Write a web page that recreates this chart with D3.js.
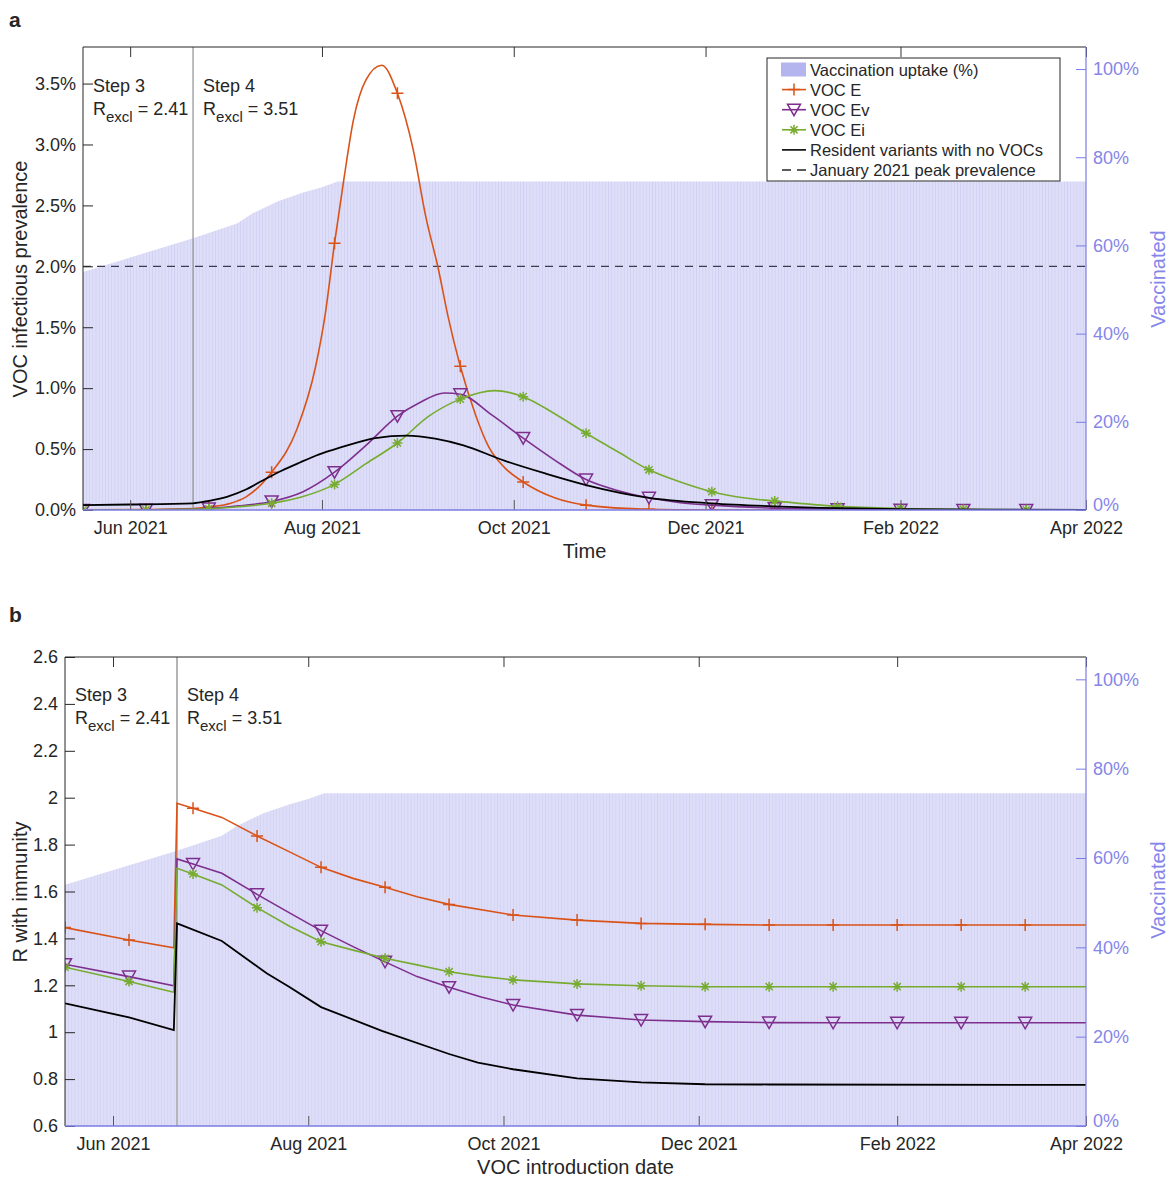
<!DOCTYPE html>
<html>
<head>
<meta charset="utf-8">
<script src="https://cdn.jsdelivr.net/npm/d3@7"></script>
<style>
  body { margin: 0; background: #fff; }
  svg text { font-family: "Liberation Sans", Arial, sans-serif; fill: #262626; }
</style>
</head>
<body>
<svg id="chart" width="1171" height="1181"></svg>
<script>
// ---------- data ----------
var startDate = "2021-05-17", endDate = "2022-04-01", stepDate = "2021-06-21";
var tickDates = ["2021-06-01", "2021-08-01", "2021-10-01", "2021-12-01", "2022-02-01", "2022-04-01"];
var markerDates = ["2021-05-17", "2021-06-06", "2021-06-26", "2021-07-16", "2021-08-05", "2021-08-25",
  "2021-09-14", "2021-10-04", "2021-10-24", "2021-11-13", "2021-12-03", "2021-12-23",
  "2022-01-12", "2022-02-01", "2022-02-21", "2022-03-13"];

// vaccination uptake (% of population)
var vaccUptake = [["2021-05-17", 54.0], ["2021-06-21", 61.6], ["2021-07-05", 65.0], ["2021-07-10", 67.3],
  ["2021-07-18", 70.0], ["2021-07-26", 72.0], ["2021-08-01", 73.2], ["2021-08-06", 74.5], ["2022-04-01", 74.5]];

// panel a: VOC infectious prevalence (%)
var prevE = [["2021-05-17", 0.001], ["2021-06-06", 0.004], ["2021-06-21", 0.012], ["2021-06-26", 0.025],
  ["2021-07-03", 0.055], ["2021-07-08", 0.11], ["2021-07-16", 0.31], ["2021-07-24", 0.66], ["2021-07-30", 1.18],
  ["2021-08-02", 1.6], ["2021-08-05", 2.19], ["2021-08-08", 2.72], ["2021-08-11", 3.2], ["2021-08-15", 3.53],
  ["2021-08-20", 3.65], ["2021-08-25", 3.42], ["2021-08-30", 2.96], ["2021-09-03", 2.41], ["2021-09-07", 1.98],
  ["2021-09-10", 1.6], ["2021-09-14", 1.18], ["2021-09-19", 0.77], ["2021-09-23", 0.52], ["2021-09-28", 0.35],
  ["2021-10-04", 0.23], ["2021-10-14", 0.1], ["2021-10-24", 0.04], ["2021-11-13", 0.006], ["2021-12-03", 0.001],
  ["2021-12-23", 0], ["2022-01-12", 0], ["2022-02-01", 0], ["2022-02-21", 0], ["2022-03-13", 0], ["2022-04-01", 0]];
var prevEv = [["2021-05-17", 0], ["2021-06-06", 0.002], ["2021-06-26", 0.012], ["2021-07-06", 0.035],
  ["2021-07-16", 0.07], ["2021-07-26", 0.15], ["2021-08-05", 0.31], ["2021-08-15", 0.53], ["2021-08-25", 0.77],
  ["2021-09-01", 0.88], ["2021-09-09", 0.96], ["2021-09-14", 0.95], ["2021-09-24", 0.78], ["2021-10-04", 0.59],
  ["2021-10-14", 0.41], ["2021-10-24", 0.25], ["2021-11-03", 0.16], ["2021-11-13", 0.1], ["2021-11-23", 0.06],
  ["2021-12-03", 0.04], ["2021-12-23", 0.015], ["2022-01-12", 0.006], ["2022-02-01", 0.002], ["2022-02-21", 0.001],
  ["2022-03-13", 0], ["2022-04-01", 0]];
var prevEi = [["2021-05-17", 0], ["2021-06-06", 0.002], ["2021-06-26", 0.01], ["2021-07-06", 0.028],
  ["2021-07-16", 0.055], ["2021-07-26", 0.11], ["2021-08-05", 0.21], ["2021-08-15", 0.38], ["2021-08-25", 0.55],
  ["2021-09-04", 0.77], ["2021-09-14", 0.91], ["2021-09-25", 0.98], ["2021-10-04", 0.93], ["2021-10-14", 0.79],
  ["2021-10-24", 0.63], ["2021-11-03", 0.48], ["2021-11-13", 0.33], ["2021-11-23", 0.23], ["2021-12-03", 0.15],
  ["2021-12-13", 0.1], ["2021-12-23", 0.074], ["2022-01-12", 0.03], ["2022-02-01", 0.012], ["2022-02-21", 0.005],
  ["2022-03-13", 0.002], ["2022-04-01", 0.001]];
var prevResident = [["2021-05-17", 0.04], ["2021-06-01", 0.045], ["2021-06-21", 0.055], ["2021-06-26", 0.075],
  ["2021-07-02", 0.11], ["2021-07-08", 0.17], ["2021-07-13", 0.24], ["2021-07-19", 0.32], ["2021-07-25", 0.39],
  ["2021-07-30", 0.445], ["2021-08-04", 0.49], ["2021-08-11", 0.545], ["2021-08-18", 0.59], ["2021-08-28", 0.61],
  ["2021-09-06", 0.585], ["2021-09-15", 0.53], ["2021-09-28", 0.405], ["2021-10-11", 0.3], ["2021-10-24", 0.205],
  ["2021-11-13", 0.1], ["2021-12-03", 0.055], ["2021-12-23", 0.03], ["2022-01-12", 0.015], ["2022-02-01", 0.008],
  ["2022-03-01", 0.003], ["2022-04-01", 0.001]];
var janPeakPrevalence = 2.0;

// panel b: R with immunity
var rE = [["2021-05-17", 1.446], ["2021-06-06", 1.393], ["2021-06-20", 1.36], ["2021-06-21", 1.976],
  ["2021-06-26", 1.955], ["2021-07-05", 1.916], ["2021-07-16", 1.837], ["2021-07-26", 1.77], ["2021-08-05", 1.703],
  ["2021-08-15", 1.656], ["2021-08-25", 1.618], ["2021-09-04", 1.578], ["2021-09-14", 1.545], ["2021-10-04", 1.5],
  ["2021-10-24", 1.478], ["2021-11-13", 1.464], ["2021-12-03", 1.46], ["2021-12-23", 1.457], ["2022-01-12", 1.457],
  ["2022-02-01", 1.457], ["2022-02-21", 1.457], ["2022-03-13", 1.457], ["2022-04-01", 1.457]];
var rEv = [["2021-05-17", 1.29], ["2021-06-06", 1.237], ["2021-06-20", 1.198], ["2021-06-21", 1.739],
  ["2021-06-26", 1.717], ["2021-07-05", 1.678], ["2021-07-16", 1.588], ["2021-07-26", 1.51], ["2021-08-05", 1.433],
  ["2021-08-15", 1.365], ["2021-08-25", 1.3], ["2021-09-04", 1.237], ["2021-09-14", 1.192], ["2021-09-24", 1.15],
  ["2021-10-04", 1.116], ["2021-10-24", 1.073], ["2021-11-13", 1.052], ["2021-12-03", 1.045], ["2021-12-23", 1.041],
  ["2022-01-12", 1.04], ["2022-02-01", 1.04], ["2022-02-21", 1.04], ["2022-03-13", 1.04], ["2022-04-01", 1.04]];
var rEi = [["2021-05-17", 1.277], ["2021-06-06", 1.216], ["2021-06-20", 1.17], ["2021-06-21", 1.699],
  ["2021-06-26", 1.675], ["2021-07-05", 1.628], ["2021-07-16", 1.531], ["2021-07-26", 1.453], ["2021-08-05", 1.386],
  ["2021-08-15", 1.35], ["2021-08-25", 1.315], ["2021-09-04", 1.287], ["2021-09-14", 1.258], ["2021-09-24", 1.238],
  ["2021-10-04", 1.223], ["2021-10-24", 1.206], ["2021-11-13", 1.198], ["2021-12-03", 1.194], ["2021-12-23", 1.194],
  ["2022-01-12", 1.194], ["2022-02-01", 1.194], ["2022-02-21", 1.194], ["2022-03-13", 1.194], ["2022-04-01", 1.194]];
var rResident = [["2021-05-17", 1.123], ["2021-06-06", 1.063], ["2021-06-20", 1.009], ["2021-06-21", 1.464],
  ["2021-07-05", 1.389], ["2021-07-19", 1.251], ["2021-07-26", 1.194], ["2021-08-05", 1.107], ["2021-08-24", 1.006],
  ["2021-09-14", 0.907], ["2021-09-23", 0.87], ["2021-10-04", 0.842], ["2021-10-24", 0.803], ["2021-11-13", 0.786],
  ["2021-12-03", 0.778], ["2021-12-23", 0.777], ["2022-04-01", 0.775]];

var prevTicks = [0, 0.5, 1, 1.5, 2, 2.5, 3, 3.5];
var rTicks = [0.6, 0.8, 1, 1.2, 1.4, 1.6, 1.8, 2, 2.2, 2.4, 2.6];
var vaccTicks = [0, 20, 40, 60, 80, 100];

// ---------- styles ----------
var colE = "#d95319", colEv = "#7e2f8e", colEi = "#77ac30", colRes = "#000000";
var vaccFill = "#dedef8", vaccStripe = "#cfcff3", vaccAxis = "#7b7be4", vaccText = "#8585ea";
var parse = d3.timeParse("%Y-%m-%d");
var fmtDay = d3.timeFormat("%Y-%m-%d");
var fmtMonth = d3.timeFormat("%b %Y");

var markerPaths = {
  plus: "M-6,0H6M0,-6V6",
  tri: "M-6.5,-5.5L6.5,-5.5L0,6Z",
  star: "M-5,0H5M0,-5V5M-3.6,-3.6L3.6,3.6M-3.6,3.6L3.6,-3.6"
};

var svg = d3.select("#chart");
var defs = svg.append("defs");

function toPts(arr) { return arr.map(function(d) { return {date: parse(d[0]), v: d[1]}; }); }

function drawPanel(cfg) {
  var w = cfg.width, h = cfg.height;
  var x = d3.scaleTime().domain([parse(startDate), parse(endDate)]).range([0, w]);
  var y = d3.scaleLinear().domain(cfg.yDomain).range([h, 0]);
  var yV = d3.scaleLinear().domain([0, 105]).range([h, 0]);

  var g = svg.append("g").attr("transform", "translate(" + cfg.left + "," + cfg.top + ")");

  defs.append("clipPath").attr("id", "clip-" + cfg.id)
    .append("rect").attr("width", w).attr("height", h);

  // striped pattern imitating the daily bars
  var dayW = x(parse("2021-05-18")) - x(parse("2021-05-17"));
  var pat = defs.append("pattern").attr("id", "bars-" + cfg.id)
    .attr("patternUnits", "userSpaceOnUse").attr("width", dayW).attr("height", 10);
  pat.append("rect").attr("width", dayW).attr("height", 10).attr("fill", vaccFill);
  pat.append("rect").attr("width", 0.7).attr("height", 10).attr("fill", vaccStripe);

  var plot = g.append("g").attr("clip-path", "url(#clip-" + cfg.id + ")");

  // vaccination uptake
  var vacc = toPts(vaccUptake);
  plot.append("path")
    .datum(vacc)
    .attr("fill", "url(#bars-" + cfg.id + ")")
    .attr("d", d3.area().x(function(d) { return x(d.date); }).y0(h).y1(function(d) { return yV(d.v); }));

  // step line
  plot.append("line")
    .attr("x1", x(parse(stepDate))).attr("x2", x(parse(stepDate)))
    .attr("y1", 0).attr("y2", h)
    .attr("stroke", cfg.stepColor).attr("stroke-width", cfg.stepWidth);

  if (cfg.dashed != null) {
    plot.append("line")
      .attr("x1", 0).attr("x2", w)
      .attr("y1", y(cfg.dashed)).attr("y2", y(cfg.dashed))
      .attr("stroke", "#3c3c50").attr("stroke-width", 1.2).attr("stroke-dasharray", "8,6");
  }

  var line = d3.line()
    .x(function(d) { return x(d.date); })
    .y(function(d) { return y(d.v); })
    .curve(cfg.curve);

  cfg.series.forEach(function(s) {
    var pts = toPts(s.data);
    plot.append("path").datum(pts)
      .attr("fill", "none").attr("stroke", s.color).attr("stroke-width", s.width || 1.6)
      .attr("d", line);
    if (s.marker) {
      var mk = pts.filter(function(d) { return markerDates.indexOf(fmtDay(d.date)) >= 0; });
      plot.selectAll(null).data(mk).enter().append("path")
        .attr("transform", function(d) { return "translate(" + x(d.date) + "," + y(d.v) + ")"; })
        .attr("d", markerPaths[s.marker])
        .attr("fill", "none").attr("stroke", s.color).attr("stroke-width", 1.5);
    }
  });

  // x ticks (inside, top and bottom)
  var xt = tickDates.map(parse);
  g.append("g").attr("transform", "translate(0," + h + ")")
    .call(d3.axisBottom(x).tickValues(xt).tickFormat(fmtMonth).tickSizeInner(-10).tickSizeOuter(0).tickPadding(11))
    .call(function(a) {
      a.select(".domain").remove();
      a.selectAll("line").attr("stroke", "#555");
      a.selectAll("text").attr("font-size", 18).attr("fill", "#262626");
    });
  g.append("g")
    .call(d3.axisTop(x).tickValues(xt).tickFormat("").tickSizeInner(-10).tickSizeOuter(0))
    .call(function(a) { a.select(".domain").remove(); a.selectAll("line").attr("stroke", "#333"); });

  // left axis
  g.append("g")
    .call(d3.axisLeft(y).tickValues(cfg.yTicks).tickFormat(cfg.yFormat).tickSizeInner(-10).tickSizeOuter(0).tickPadding(7))
    .call(function(a) {
      a.select(".domain").remove();
      a.selectAll("line").attr("stroke", "#262626");
      a.selectAll("text").attr("font-size", 18).attr("fill", "#262626");
    });

  // right (vaccination) axis
  g.append("g").attr("transform", "translate(" + w + ",0)")
    .call(d3.axisRight(yV).tickValues(vaccTicks).tickFormat(function(d) { return d + "%"; })
      .tickSizeInner(-10).tickSizeOuter(0).tickPadding(7))
    .call(function(a) {
      a.select(".domain").remove();
      a.selectAll("line").attr("stroke", vaccAxis);
      a.selectAll("text").attr("font-size", 18).style("fill", vaccText)
        .attr("dy", function(d) { return d === 0 ? "0.05em" : "0.32em"; });
    });

  // frame
  g.append("line").attr("x1", 0).attr("x2", w).attr("y1", 0).attr("y2", 0).attr("stroke", "#262626");
  g.append("line").attr("x1", 0).attr("x2", 0).attr("y1", 0).attr("y2", h).attr("stroke", "#262626");
  g.append("line").attr("x1", w).attr("x2", w).attr("y1", 0).attr("y2", h).attr("stroke", vaccAxis).attr("stroke-width", 1.2);
  g.append("line").attr("x1", 0).attr("x2", w).attr("y1", h).attr("y2", h).attr("stroke", vaccAxis).attr("stroke-width", 1.5);

  // step annotations
  function stepLabel(px, step, r) {
    var t = g.append("g").attr("transform", "translate(" + px + ",0)");
    t.append("text").attr("y", cfg.stepY).attr("font-size", 18).text(step);
    var rt = t.append("text").attr("y", cfg.stepY + 23).attr("font-size", 18);
    rt.append("tspan").text("R");
    rt.append("tspan").attr("dy", 7).attr("font-size", 15).text("excl");
    rt.append("tspan").attr("dy", -7).text(" = " + r);
  }
  stepLabel(10, "Step 3", "2.41");
  stepLabel(x(parse(stepDate)) + 10, "Step 4", "3.51");

  // axis titles
  g.append("text").attr("text-anchor", "middle").attr("font-size", 20)
    .attr("transform", "translate(" + (27 - cfg.left) + "," + cfg.yLabelCenter + ") rotate(-90)")
    .text(cfg.yLabel);
  g.append("text").attr("text-anchor", "middle").attr("font-size", 20)
    .attr("transform", "translate(" + (w + 79) + "," + cfg.vLabelCenter + ") rotate(-90)")
    .style("fill", vaccText).text("Vaccinated");
  g.append("text").attr("text-anchor", "middle").attr("font-size", 20)
    .attr("x", w / 2).attr("y", h + 48).text(cfg.xLabel);

  return g;
}

// ---------- panel a ----------
drawPanel({
  id: "a", left: 83, top: 47, width: 1003, height: 463,
  yDomain: [0, 3.8], yTicks: prevTicks,
  yFormat: function(d) { return d.toFixed(1) + "%"; },
  curve: d3.curveMonotoneX, dashed: janPeakPrevalence,
  stepColor: "#8f8f8f", stepWidth: 1.2, stepY: 45,
  yLabel: "VOC infectious prevalence", yLabelCenter: 232, vLabelCenter: 232,
  xLabel: "Time",
  series: [
    {data: prevE, color: colE, marker: "plus"},
    {data: prevEv, color: colEv, marker: "tri"},
    {data: prevEi, color: colEi, marker: "star"},
    {data: prevResident, color: colRes, width: 1.8}
  ]
});

// ---------- panel b ----------
drawPanel({
  id: "b", left: 65, top: 657, width: 1021, height: 469,
  yDomain: [0.6, 2.6], yTicks: rTicks,
  yFormat: function(d) { return String(+d.toFixed(1)); },
  curve: d3.curveLinear, dashed: null,
  stepColor: "#b4b4b4", stepWidth: 2, stepY: 44,
  yLabel: "R with immunity", yLabelCenter: 235, vLabelCenter: 233,
  xLabel: "VOC introduction date",
  series: [
    {data: rE, color: colE, marker: "plus"},
    {data: rEv, color: colEv, marker: "tri"},
    {data: rEi, color: colEi, marker: "star"},
    {data: rResident, color: colRes, width: 1.8}
  ]
});

// ---------- legend (panel a) ----------
var legendItems = [
  {label: "Vaccination uptake (%)", type: "patch"},
  {label: "VOC E", color: colE, marker: "plus"},
  {label: "VOC Ev", color: colEv, marker: "tri"},
  {label: "VOC Ei", color: colEi, marker: "star"},
  {label: "Resident variants with no VOCs", color: colRes},
  {label: "January 2021 peak prevalence", color: "#262626", dash: "9,6"}
];
var lg = svg.append("g").attr("transform", "translate(767,58)");
lg.append("rect").attr("width", 293).attr("height", 123).attr("fill", "#fff").attr("stroke", "#262626");
legendItems.forEach(function(it, i) {
  var cy = 11.5 + i * 20.1;
  var row = lg.append("g").attr("transform", "translate(0," + cy + ")");
  if (it.type === "patch") {
    row.append("rect").attr("x", 14).attr("y", -7).attr("width", 25).attr("height", 14).attr("fill", "#b4b4ee");
  } else {
    row.append("line").attr("x1", 15).attr("x2", 39).attr("stroke", it.color).attr("stroke-width", 1.6)
      .attr("stroke-dasharray", it.dash || null);
    if (it.marker) {
      row.append("path").attr("transform", "translate(27,0)").attr("d", markerPaths[it.marker])
        .attr("fill", "none").attr("stroke", it.color).attr("stroke-width", 1.5);
    }
  }
  row.append("text").attr("x", 43).attr("y", 6).attr("font-size", 16.5).text(it.label);
});

// panel letters
svg.append("text").attr("x", 9).attr("y", 27).attr("font-size", 21).attr("font-weight", "bold").text("a");
svg.append("text").attr("x", 9).attr("y", 622).attr("font-size", 21).attr("font-weight", "bold").text("b");
</script>
</body>
</html>
